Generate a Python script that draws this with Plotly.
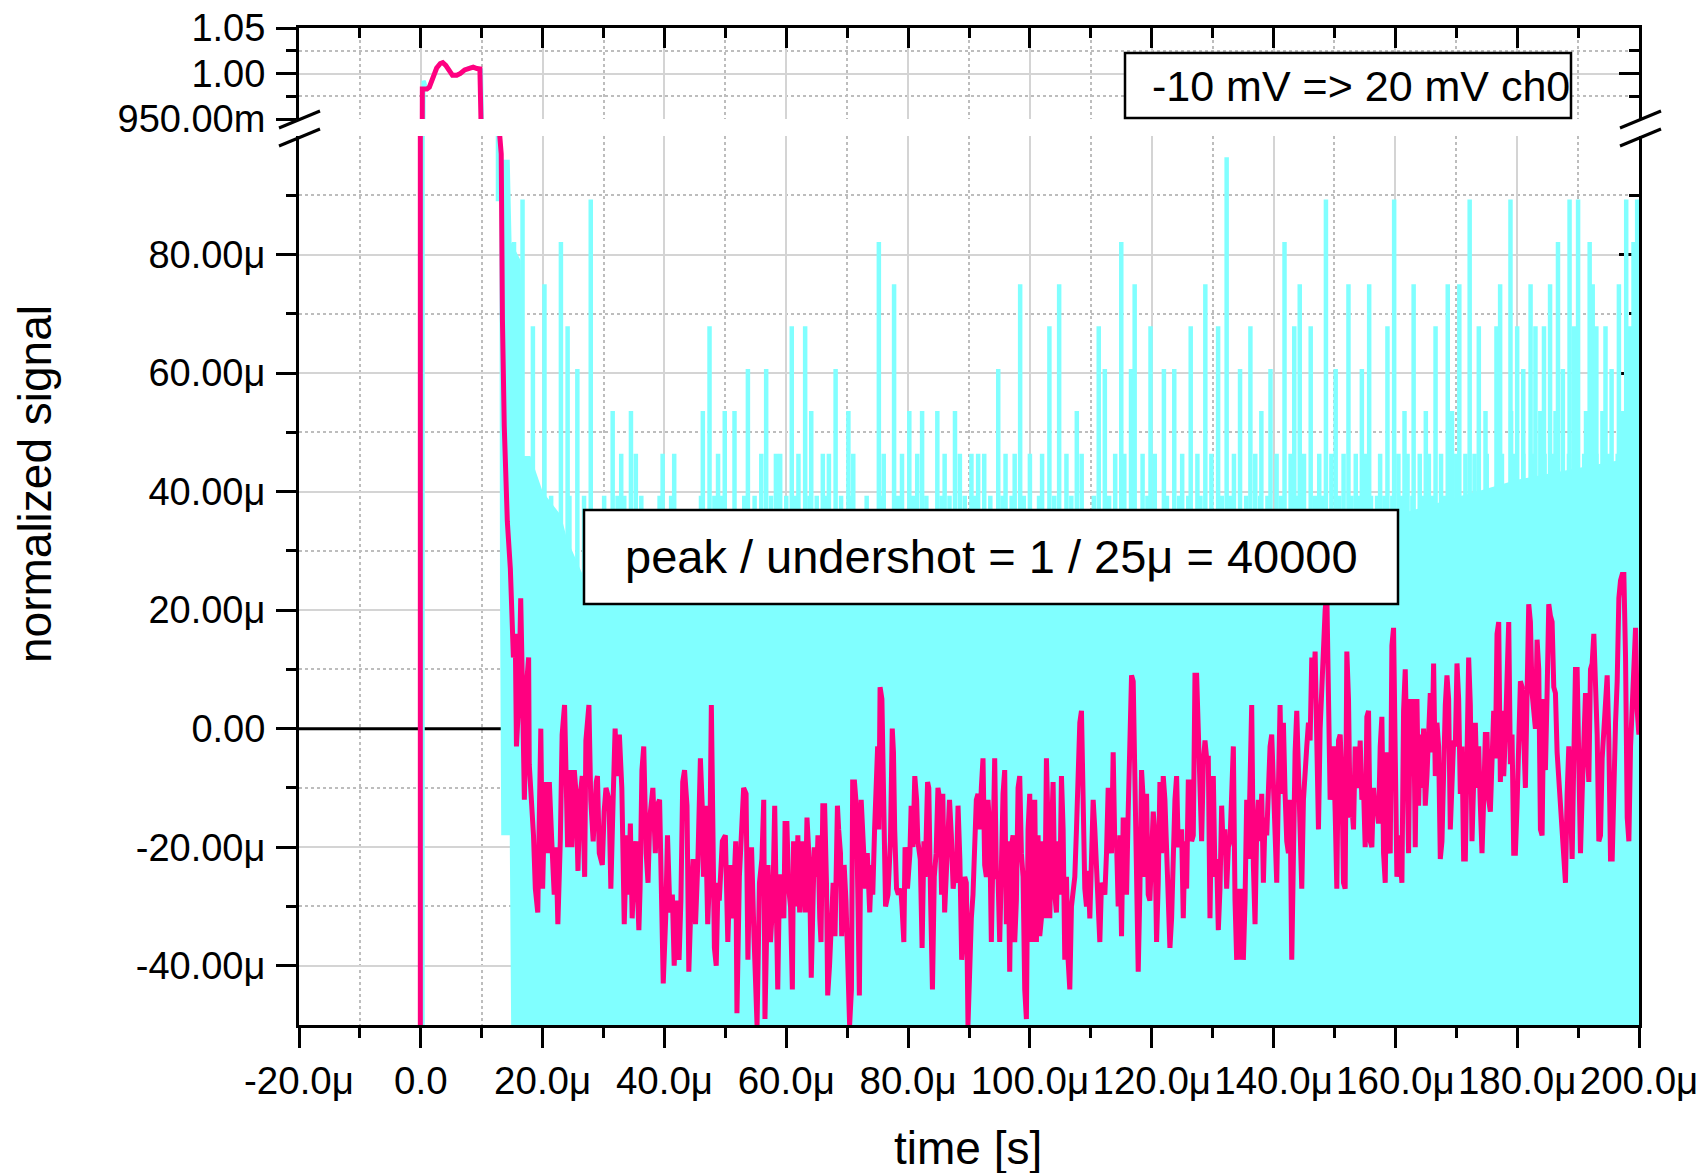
import plotly.graph_objects as go

FONT = "Liberation Sans, Arial, sans-serif"
MAGENTA = "#ff0080"
CYAN = "#80ffff"
U = 1e-6  # micro

# ---------------- axes ----------------
x_range = [-20, 200]                     # time in microseconds
x_tick_vals = [-20, 0, 20, 40, 60, 80, 100, 120, 140, 160, 180, 200]
x_tick_text = ["-20.0μ", "0.0", "20.0μ", "40.0μ", "60.0μ", "80.0μ", "100.0μ",
               "120.0μ", "140.0μ", "160.0μ", "180.0μ", "200.0μ"]
x_minor_vals = [-10, 10, 30, 50, 70, 90, 110, 130, 150, 170, 190]

lo_range_u = [-50, 100]                  # lower panel, micro-units
lo_tick_u = [-40, -20, 0, 20, 40, 60, 80]
lo_tick_text = ["-40.00μ", "-20.00μ", "0.00", "20.00μ", "40.00μ", "60.00μ", "80.00μ"]
lo_minor_u = [-30, -10, 10, 30, 50, 70, 90]

hi_range = [0.95, 1.05]                  # upper panel, normalized units
hi_tick_vals = [0.95, 1.00, 1.05]
hi_tick_text = ["950.00m", "1.00", "1.05"]
hi_minor_vals = [0.975, 1.025]

# ---------------- ch0 (magenta) ----------------
# pulse region, normalized units
mag_pulse_t = [-20.0, -0.25, 0.25, 1.0, 1.4, 2.0, 2.6, 3.2, 3.6, 4.1, 4.6, 5.2,
               5.9, 6.5, 7.2, 8.0, 8.6, 9.2, 9.7]
mag_pulse_v = [-0.5, -0.5, 0.983, 0.983, 0.985, 0.995, 1.006, 1.011, 1.012, 1.009,
               1.003, 0.998, 0.998, 1.000, 1.004, 1.0065, 1.007, 1.0055, 1.005]

# decay and undershoot, micro-units
mag_tail_t = [
    12.85, 12.96, 13.2, 13.3, 13.4, 13.7, 14.0, 14.2, 14.7, 14.9,
    15.2, 15.5, 15.7, 16.1, 16.4, 16.7, 17.0, 17.4, 17.7, 17.8,
    18.3, 18.5, 18.8, 19.2, 19.5, 19.7, 20.0, 20.4, 20.8, 21.1,
    21.5, 21.9, 22.2, 22.5, 22.9, 23.2, 23.6, 23.8, 24.1, 24.5,
    24.8, 25.2, 25.5, 25.8, 26.1, 26.5, 26.9, 27.1, 27.6, 27.9,
    28.3, 28.8, 29.0, 29.3, 29.8, 30.1, 30.4, 30.9, 31.2, 31.6,
    31.9, 32.2, 32.6, 33.0, 33.4, 33.8, 34.1, 34.4, 34.7, 35.1,
    35.3, 35.8, 36.0, 36.3, 36.6, 37.0, 37.3, 37.6, 38.1, 38.5,
    38.8, 39.2, 39.5, 39.8, 40.2, 40.5, 40.9, 41.3, 41.6, 42.0,
    42.4, 42.7, 43.0, 43.3, 43.7, 44.0, 44.4, 44.7, 45.1, 45.5,
    45.9, 46.2, 46.4, 46.7, 47.1, 47.4, 47.7, 47.9, 48.2, 48.5,
    48.8, 49.0, 49.5, 50.0, 50.4, 50.8, 51.2, 51.7,
    51.9, 52.3, 52.7, 53.0, 53.4, 53.7, 54.0, 54.3, 54.7, 54.9,
    55.2, 55.6, 56.0, 56.3, 56.5, 57.0, 57.4, 57.8, 58.1, 58.3,
    58.6, 58.9, 59.2, 59.6, 59.8, 60.1, 60.4, 60.7, 61.0, 61.2,
    61.5, 61.7, 61.9, 62.2, 62.6, 62.9, 63.1, 63.4, 63.8, 64.1,
    64.4, 64.6, 65.0, 65.2, 65.5, 65.7, 66.0, 66.3, 66.6, 66.8,
    67.1, 67.4, 67.7, 68.0, 68.4, 68.6, 68.9, 69.1, 69.5, 69.8,
    70.1, 70.4, 70.7, 70.9, 71.2, 71.5, 71.8, 72.0, 72.3, 72.6,
    73.0, 73.3, 73.7, 74.0, 74.2, 74.5, 75.0, 75.2, 75.4, 75.7,
    76.0, 76.3, 76.7, 77.1, 77.4, 77.6, 77.8, 78.1, 78.4, 78.8,
    79.0, 79.3, 79.5, 79.9, 80.3, 80.5, 80.8, 81.1, 81.4, 81.6,
    82.0, 82.3, 82.6, 82.8, 83.2, 83.4, 83.7, 84.0, 84.3, 84.6,
    84.9, 85.2, 85.5, 85.7, 86.0, 86.4, 86.8, 87.1, 87.4, 87.7,
    87.9, 88.2, 88.5, 88.8, 89.0, 89.3,
]
mag_tail_uv = [
    130, 100, 97, 78, 69, 51, 41, 35, 27, 22,
    12, 16, -3, 5, 22, 6, -12, 8, 12, -6,
    -13, -18, -27, -31, -12, 0, -27, -9, -21, -9,
    -19, -28, -20, -33, -19, -1, 4, -9, -20, -7,
    -20, -7, -11, -24, -12, -8, -25, -2, 4, -12,
    -19, -9, -8, -21, -23, -14, -10, -12, -27, -11,
    0, -8, -1, -10, -33, -18, -28, -16, -32, -22,
    -19, -34, -27, -7, -3, -21, -26, -15, -10, -21,
    -13, -12, -32, -43, -32, -18, -31, -28, -40, -29,
    -39, -29, -9, -7, -13, -41, -28, -22, -33, -22,
    -5, -13, -25, -13, -33, -25, 4, -9, -37, -40,
    -26, -29, -19, -18, -36, -23, -32, -19,
    -48, -25, -16, -10, -11, -39, -23, -20, -35, -42,
    -50, -26, -22, -12, -49, -23, -36, -29, -13, -26,
    -44, -25, -25, -32, -16, -16, -27, -30, -44, -19,
    -23, -30, -18, -31, -19, -26, -31, -15, -23, -42,
    -27, -20, -25, -18, -32, -36, -13, -13, -26, -45,
    -40, -33, -26, -35, -13, -17, -21, -35, -23, -29,
    -37, -50, -44, -9, -9, -13, -31, -45, -12, -17,
    -27, -21, -31, -23, -28, -17, -3, -17, 7, 5,
    -20, -30, -28, -19, 0, -4, -17, -27, -28, -27,
    -30, -36, -20, -27, -21, -13, -20, -8, -12, -19,
    -22, -37, -19, -25, -9, -10, -29, -44, -25, -21,
    -10, -12, -28, -11, -31, -23, -12, -18, -27, -24,
    -26, -13, -22, -39, -36, -25,
]

# evenly sampled record from 89.56 us onward, micro-units
mag_rec_t0 = 89.56
mag_rec_dt = 0.274
mag_rec_uv = [
    -26, -50, -36, -32, -28, -17, -12, -11, -17, -10,
    -5, -23, -25, -12, -17, -36, -21, -5, -25, -25,
    -36, -21, -11, -7, -33, -19, -41, -20, -18, -36,
    -29, -10, -8, -21, -25, -44, -49, -17, -11, -36,
    -14, -12, -36, -18, -35, -32, -19, -32, -5, -17,
    -32, -18, -9, -28, -31, -19, -28, -8, -17, -39,
    -25, -39, -44, -30, -27, -25, -17, -6, 1, 3,
    -9, -27, -30, -24, -32, -23, -12, -17, -25, -31,
    -36, -26, -27, -28, -21, -10, -19, -21, -4, -20,
    -19, -30, -18, -35, -15, -25, -28, -14, -3, 9,
    8, -7, -19, -41, -27, -7, -12, -25, -11, -28,
    -29, -22, -14, -18, -36, -26, -9, -21, -8, -12,
    -23, -28, -37, -32, -19, -12, -8, -20, -19, -17,
    -32, -19, -27, -9, -9, -19, -18, 9, 9, -2,
    -12, -19, -6, -2, -5,
    -5, -32, -12, -8, -25, -22, -34, -27, -13, -21,
    -17, -27, -20, -19, -13, -3, -29, -39, -27, -39,
    -27, -39, -29, -12, -22, -8, 4, -23, -33, -17,
    -12, -19, -11, -26, -15, -18, -10, -3, -1, -8,
    -17, -26, -10, 4, -11, 1, -11, -19, -21, -12,
    -39, -12, -4, 3, -10, -15, -27, -12, -6, -3,
    1, -2, 12, 6, 13, 0, -17, 0, 8, 13,
    20, 23, 5, -12, -8, -3, -14, -27, -2, -1,
    -8, -26, -27, 13, 5, -15, -13, -17, -3, -8,
    -10, -2, -12, -10, -20, 2, 3, -19, -20, -10,
    -14, -13, -16, -3, 2, -21, -26, -4, -20, -21,
    14, 17, -1, -25, -18, -23, -26, 3, 10, -4,
    -21, 5, -8, 5, -20, 5, -13, -1, -10, 0,
    -13, -8, 3, 6, -4, 11, -8, 1, -3, -22,
    -19, -4, 4, 9, 5, -17, -11, -2, -3, 11,
    5, -11, -3, -22, -22, -4, 12, 4, -19, -9,
    1, -10, -3, -13, -21, -12, -1, -1, -12, -14,
    -2, 3, -5, 16, 18, -9, 3, -8, -1, 14,
    18, -6, -1, -21, -21, -13, 1, 8, 7, -6,
    -10, 6, 21, 18, 6, 3, 0, 15, 10, -17,
    -18, 5, -7, 6, 21, 19, 18, 7, 6, -4,
    -9, -11, -17, -21, -26, -11, -3, -12, -22, -5,
    10, 10, -2, -21, -11, -2, 6, -3, -9, 10,
    11, 16, 6, -1, -19, -18, -5, 1, 4, 9,
    -2, -22, -22, -6, 1, 8, 22, 25, 26, 26,
    12, -15, -19, -3, 3, 10, 17, 3, -1, 9,
    -1,
]

# ---------------- reference channel (cyan) ----------------
cyan_pulse_t = [-20.0, 0.25, 0.45, 0.6, 0.8, 1.4, 2.0, 2.6, 3.2, 3.6, 4.1, 4.6,
                5.2, 5.9, 6.5, 7.2, 8.0, 8.6, 9.2, 9.9, 12.35]
cyan_pulse_v = [-0.5, -0.5, 0.992, 0.99, 0.984, 0.985, 0.995, 1.006, 1.011, 1.012,
                1.009, 1.003, 0.998, 0.998, 1.000, 1.004, 1.0065, 1.007, 1.0055,
                1.004, 1.0e-4]

# dense noise band after the pulse (micro-units)
cyan_band_t = [12.3, 12.9, 13.0, 13.2, 14.6, 14.9, 16.4, 16.8, 18.0, 20.0, 23.0,
               24.0, 27.0, 60.0, 100.0, 140.0, 150.0, 160.0, 170.0, 180.0, 190.0, 200.5]
cyan_band_top = [100, 100, 100, 96, 96, 82, 79, 46, 46, 40, 36,
                 32, 25, 24, 24, 26, 30, 36, 39, 42, 44, 46]
cyan_band_bot = [89, 89, 23, -18, -18, -60, -60, -60, -60, -60, -60,
                 -60, -60, -60, -60, -60, -60, -60, -60, -60, -60, -60]

# single-sample excursions above the band (micro-units, quantized levels)
spike_t = [15.3, 16.7, 18.4, 20.3, 23.0, 24.1, 25.7, 27.9, 31.5, 34.5, 46.3, 47.4,
           49.9, 51.5, 53.7, 56.7, 60.9, 63.1, 64.1, 68.1, 70.2, 75.2, 77.7, 80.2,
           82.3, 84.8, 87.7, 94.8, 98.4, 103.2, 104.8, 107.7, 111.3, 112.3, 115.0,
           116.6, 117.2, 119.8, 122.0, 123.7, 126.4, 128.8, 130.9, 132.3, 134.5,
           136.2, 138.0, 139.5, 141.8, 143.4, 144.3, 146.1, 148.6, 150.2, 152.3,
           154.5, 155.7, 158.7, 159.8, 163.0, 166.6, 168.6, 170.5, 172.2, 173.7,
           176.6, 177.2, 178.9, 180.0, 181.0, 182.2, 183.0, 184.4, 185.4, 186.7,
           187.5, 188.6, 189.3, 190.0, 191.9, 192.4, 193.0, 194.5, 195.5, 196.7,
           197.9, 198.5, 199.1, 199.7]
spike_top = [82.1, 89.3, 67.9, 75.0, 82.1, 67.9, 60.7, 89.3, 53.6, 53.6, 53.6, 67.9,
             53.6, 53.6, 60.7, 60.7, 67.9, 67.9, 53.6, 60.7, 53.6, 82.1, 75.0, 53.6,
             53.6, 53.6, 53.6, 60.7, 75.0, 67.9, 75.0, 53.6, 67.9, 60.7, 82.1,
             60.7, 75.0, 67.9, 60.7, 60.7, 67.9, 75.0, 67.9, 96.4, 60.7,
             67.9, 53.6, 60.7, 82.1, 67.9, 75.0, 67.9, 89.3, 60.7, 75.0,
             60.7, 75.0, 67.9, 89.3, 75.0, 67.9, 75.0, 75.0, 89.3, 67.9,
             67.9, 75.0, 89.3, 67.9, 60.7, 75.0, 67.9, 67.9, 75.0, 82.1,
             60.7, 89.3, 67.9, 89.3, 82.1, 75.0, 67.9, 67.9, 60.7, 75.0,
             89.3, 67.9, 82.1, 89.3]

comb54_level = 53.6
comb54_t = [161.5, 165.0, 169.3, 174.8, 179.0, 183.8, 186.3, 191.3, 194.0, 197.3]
comb46_level = 46.4
comb46_t = [32.9, 35.3, 39.7, 41.6, 48.8, 55.9, 58.3, 59.0, 62.0, 66.0, 67.0, 71.0,
            76.0, 79.0, 81.5, 86.0, 88.5, 90.4, 91.5, 92.5, 96.0, 97.5, 100.0, 102.0,
            106.0, 108.5, 114.0, 115.5, 118.5, 120.5, 125.0, 127.5, 129.8, 133.5,
            137.0, 140.5, 142.8, 145.0, 147.5, 149.5, 151.5, 153.5, 155.0, 157.5,
            160.5, 162.0, 164.0, 165.5, 167.5, 170.0, 171.5, 173.0, 175.0, 177.5,
            179.5, 181.0, 182.8, 184.5, 186.0, 188.5, 189.5, 191.0, 193.0, 195.0,
            196.5, 198.0, 199.5]
comb39_level = 39.3
comb39_t = [19.7, 21.4, 24.4, 26.8, 30.1, 32.3, 33.4, 36.2, 39.2, 41.1, 46.0, 48.2,
            49.3, 53.1, 54.8, 57.5, 60.0, 61.5, 63.8, 65.0, 66.6, 69.0, 70.8, 73.2,
            75.8, 78.3, 80.8, 83.0, 85.5, 86.8, 89.3, 91.0, 93.5, 95.5, 97.0, 99.0,
            101.5, 104.0, 106.8, 110.5, 113.0, 117.0, 119.3, 122.5, 124.5, 126.0,
            128.0, 131.5, 132.9, 135.5, 137.8, 139.0, 141.2, 144.0, 146.8, 148.0,
            150.8, 152.8, 154.0, 156.0, 157.0, 158.2, 159.5, 161.0, 162.8, 164.5,
            166.0, 168.0, 169.0, 171.0, 172.5, 174.5, 176.0, 177.0, 178.5, 180.5,
            182.0, 183.2, 185.0, 187.5, 189.0, 190.8, 192.0, 193.5, 194.5, 195.5,
            197.0, 198.5, 199.8]

zero_t = [-20, 200]
zero_v = [0.0, 0.0]

# ---------------- assemble series ----------------
mag_t = (mag_pulse_t + mag_tail_t
         + [mag_rec_t0 + k * mag_rec_dt for k in range(len(mag_rec_uv))])
mag_v = mag_pulse_v + [u * U for u in mag_tail_uv] + [u * U for u in mag_rec_uv]

band_x = cyan_band_t + cyan_band_t[::-1]
band_y = [u * U for u in cyan_band_top] + [u * U for u in cyan_band_bot[::-1]]

sx, sy = [], []
all_spikes = (list(zip(spike_t, spike_top))
              + [(t, comb54_level) for t in comb54_t]
              + [(t, comb46_level) for t in comb46_t]
              + [(t, comb39_level) for t in comb39_t])
for t, top in all_spikes:
    sx += [t, t, None]
    sy += [0.0, top * U, None]

fig = go.Figure()
fig.add_trace(go.Scatter(x=zero_t, y=zero_v, mode="lines",
                         line=dict(color="black", width=3), xaxis="x", yaxis="y"))
fig.add_trace(go.Scatter(x=band_x, y=band_y, mode="lines", fill="toself",
                         fillcolor=CYAN, line=dict(width=0, color=CYAN),
                         xaxis="x", yaxis="y"))
fig.add_trace(go.Scatter(x=sx, y=sy, mode="lines", connectgaps=False,
                         line=dict(color=CYAN, width=4.5), xaxis="x", yaxis="y"))
for ya in ("y", "y2"):
    fig.add_trace(go.Scatter(x=cyan_pulse_t, y=cyan_pulse_v, mode="lines",
                             line=dict(color=CYAN, width=4), xaxis="x", yaxis=ya))
for ya in ("y", "y2"):
    fig.add_trace(go.Scatter(x=mag_t, y=mag_v, mode="lines",
                             line=dict(color=MAGENTA, width=5), xaxis="x", yaxis=ya))
# empty traces so the framing axes (top / right) get drawn
for xa, ya in (("x2", "y2"), ("x", "y3"), ("x", "y4")):
    fig.add_trace(go.Scatter(x=[None], y=[None], mode="lines", xaxis=xa, yaxis=ya,
                             hoverinfo="skip", showlegend=False))

# ---------------- layout ----------------
GRID = "#d4d4d4"
GRID_MINOR = "#bdbdbd"
tickfont = dict(family=FONT, size=38, color="black")

def y_axis_common():
    return dict(showline=True, linecolor="black", linewidth=3, ticks="outside",
                ticklen=20, tickwidth=3, tickcolor="black", tickmode="array",
                showgrid=True, gridcolor=GRID, gridwidth=1.5, zeroline=False,
                tickfont=tickfont, ticklabelstandoff=3, automargin=False)

lo_dom = [0.0, 0.8917]
hi_dom = [0.9087, 1.0]

yaxis = y_axis_common()
yaxis.update(domain=lo_dom, anchor="x", range=[v * U for v in lo_range_u],
             tickvals=[v * U for v in lo_tick_u], ticktext=lo_tick_text,
             minor=dict(tickmode="array", tickvals=[v * U for v in lo_minor_u],
                        ticks="outside", ticklen=10, tickwidth=3, tickcolor="black",
                        showgrid=True, gridcolor=GRID_MINOR, griddash="dot",
                        gridwidth=1.5))
yaxis2 = y_axis_common()
yaxis2.update(domain=hi_dom, anchor="x", range=hi_range,
              tickvals=hi_tick_vals, ticktext=hi_tick_text,
              minor=dict(tickmode="array", tickvals=hi_minor_vals,
                         ticks="outside", ticklen=10, tickwidth=3, tickcolor="black",
                         showgrid=True, gridcolor=GRID_MINOR, griddash="dot",
                         gridwidth=1.5))

xaxis = dict(domain=[0, 1], anchor="y", range=x_range, showline=True,
             linecolor="black", linewidth=3, ticks="outside", ticklen=20,
             tickwidth=3, tickcolor="black", tickmode="array",
             tickvals=x_tick_vals, ticktext=x_tick_text, showgrid=True,
             gridcolor=GRID, gridwidth=1.5, zeroline=False, automargin=False,
             tickfont=dict(family=FONT, size=38.5, color="black"),
             ticklabelstandoff=0, layer="below traces",
             minor=dict(tickmode="array", tickvals=x_minor_vals, ticks="outside",
                        ticklen=10, tickwidth=3, tickcolor="black", showgrid=True,
                        gridcolor=GRID_MINOR, griddash="dot", gridwidth=1.5))

# frame on top and right with inward ticks
xaxis2 = dict(overlaying="x", side="top", anchor="y2", range=x_range,
              showline=True, linecolor="black", linewidth=3, ticks="inside",
              ticklen=20, tickwidth=3, tickcolor="black", tickmode="array",
              tickvals=x_tick_vals, showticklabels=False, showgrid=False,
              zeroline=False, automargin=False,
              minor=dict(tickmode="array", tickvals=x_minor_vals, ticks="inside",
                         ticklen=10, tickwidth=3, tickcolor="black", showgrid=False))
yaxis3 = dict(overlaying="y", side="right", anchor="x",
              range=[v * U for v in lo_range_u], showline=True, linecolor="black",
              linewidth=3, ticks="inside", ticklen=20, tickwidth=3,
              tickcolor="black", tickmode="array",
              tickvals=[v * U for v in lo_tick_u], showticklabels=False,
              showgrid=False, zeroline=False, layer="below traces", automargin=False,
              minor=dict(tickmode="array", tickvals=[v * U for v in lo_minor_u],
                         ticks="inside", ticklen=10, tickwidth=3,
                         tickcolor="black", showgrid=False))
yaxis4 = dict(overlaying="y2", side="right", anchor="x", range=hi_range,
              showline=True, linecolor="black", linewidth=3, ticks="inside",
              ticklen=20, tickwidth=3, tickcolor="black", tickmode="array",
              tickvals=hi_tick_vals, showticklabels=False, showgrid=False,
              zeroline=False, automargin=False,
              minor=dict(tickmode="array", tickvals=hi_minor_vals, ticks="inside",
                         ticklen=10, tickwidth=3, tickcolor="black", showgrid=False))

# plot-area geometry (pixels) for placing frames and labels
W, H = 1703, 1173
L, R, T, B = 299, 64, 28, 148
PW, PH = W - L - R, H - T - B

def px(x):
    return (x - L) / PW

def py(y):
    return (H - B - y) / PH

shapes = []
# axis break marks on both sides
for x0, x1 in ((279, 320), (1620, 1661)):
    for y0, y1 in ((128, 111), (146, 129)):
        shapes.append(dict(type="line", xref="paper", yref="paper",
                           x0=px(x0), x1=px(x1), y0=py(y0), y1=py(y1),
                           line=dict(color="black", width=3)))
# text frames
shapes.append(dict(type="rect", xref="paper", yref="paper",
                   x0=px(1125), x1=px(1571), y0=py(118), y1=py(53),
                   fillcolor="white", line=dict(color="black", width=2.5)))
shapes.append(dict(type="rect", xref="paper", yref="paper",
                   x0=px(584), x1=px(1398), y0=py(604), y1=py(510),
                   fillcolor="white", line=dict(color="black", width=2.5)))

annotations = [
    dict(text="time [s]", xref="paper", yref="paper", x=px(968), y=py(1147),
         xanchor="center", yanchor="middle", yshift=-1, showarrow=False,
         font=dict(family=FONT, size=46, color="black")),
    dict(text="normalized signal", xref="paper", yref="paper", x=px(35), y=py(484),
         xanchor="center", yanchor="middle", showarrow=False, textangle=-90,
         font=dict(family=FONT, size=46, color="black")),
    dict(text="-10 mV => 20 mV ch0", xref="paper", yref="paper", x=px(1150),
         y=py(86), xanchor="left", yanchor="middle", showarrow=False,
         font=dict(family=FONT, size=43, color="black")),
    dict(text="peak / undershot = 1 / 25μ = 40000", xref="paper", yref="paper",
         x=px(991), y=py(556), xanchor="center", yanchor="middle",
         showarrow=False, font=dict(family=FONT, size=47, color="black")),
]

fig.update_layout(
    width=W, height=H, margin=dict(l=L, r=R, t=T, b=B, autoexpand=False),
    paper_bgcolor="white", plot_bgcolor="white", showlegend=False,
    font=dict(family=FONT, size=37, color="black"),
    xaxis=xaxis, xaxis2=xaxis2, yaxis=yaxis, yaxis2=yaxis2,
    yaxis3=yaxis3, yaxis4=yaxis4, shapes=shapes, annotations=annotations,
)

fig.write_html("out.html")
